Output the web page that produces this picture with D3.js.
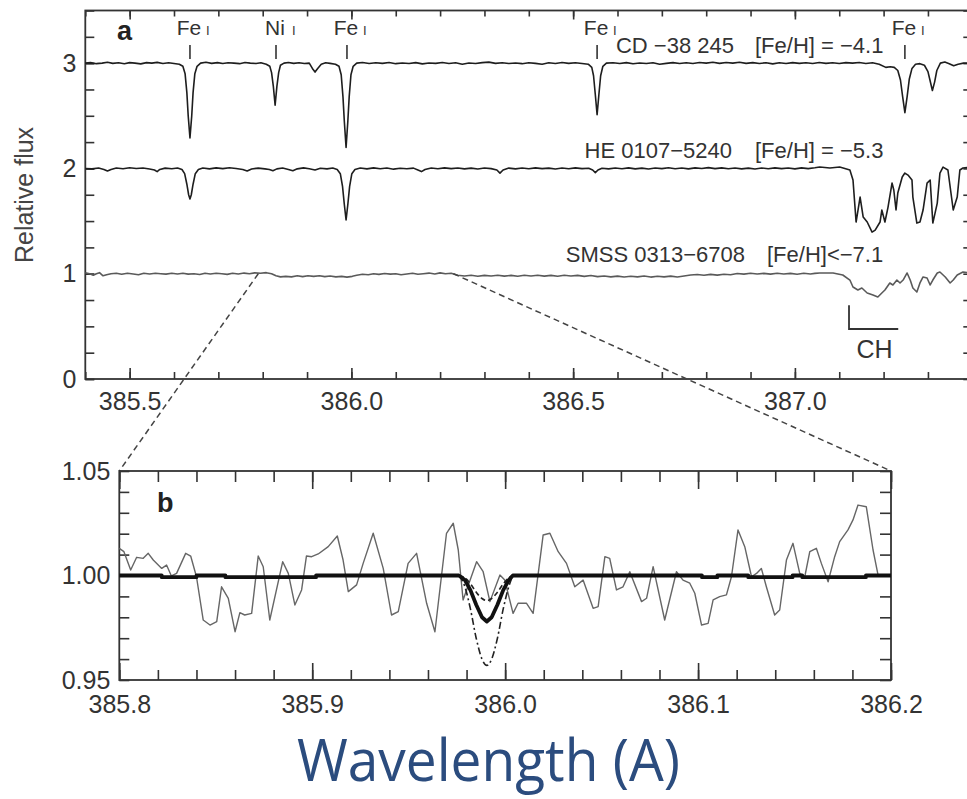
<!DOCTYPE html>
<html>
<head>
<meta charset="utf-8">
<script src="https://cdn.jsdelivr.net/npm/d3@7"></script>
<style>
  body { margin: 0; background: #fff; }
  svg { display: block; font-family: "Liberation Sans", Arial, Helvetica, sans-serif; }
</style>
</head>
<body>
<div id="plot"></div>
<script>
// ---- data: panel a spectra [wavelength nm, normalized flux] ----
var cdSpec = [
  [385.400,1.000],[385.412,1.005],[385.425,0.995],[385.438,1.000],[385.450,1.008],[385.462,0.998],[385.475,1.003],[385.488,0.995],
  [385.500,1.005],[385.512,1.000],[385.525,0.993],[385.538,1.005],[385.550,1.000],[385.562,1.007],[385.575,0.997],[385.588,1.003],
  [385.600,0.996],[385.612,0.990],[385.620,0.970],[385.625,0.900],[385.629,0.720],[385.632,0.500],[385.636,0.290],[385.640,0.500],
  [385.643,0.720],[385.647,0.900],[385.652,0.970],[385.660,1.000],[385.672,1.008],[385.685,0.998],[385.698,1.005],[385.710,0.996],
  [385.722,1.004],[385.735,1.000],[385.748,0.995],[385.760,1.006],[385.772,1.000],[385.785,0.997],[385.796,1.004],[385.808,0.990],
  [385.816,0.970],[385.820,0.910],[385.824,0.780],[385.828,0.600],[385.832,0.780],[385.836,0.910],[385.840,0.980],[385.848,1.000],
  [385.858,1.006],[385.870,0.998],[385.882,1.004],[385.894,0.996],[385.905,1.000],[385.912,0.950],[385.918,0.915],[385.924,0.950],
  [385.932,0.990],[385.942,1.003],[385.952,0.998],[385.964,0.990],[385.972,0.970],[385.977,0.890],[385.981,0.680],[385.984,0.450],
  [385.988,0.200],[385.992,0.450],[385.995,0.680],[385.999,0.890],[386.004,0.970],[386.012,1.000],[386.025,1.006],[386.040,0.996],
  [386.055,1.004],[386.070,0.998],[386.085,1.006],[386.100,0.995],[386.115,1.002],[386.130,0.997],[386.145,1.005],[386.160,0.993],
  [386.175,1.002],[386.190,0.998],[386.205,1.006],[386.220,0.997],[386.235,1.003],[386.250,0.990],[386.265,1.002],[386.280,0.997],
  [386.295,1.005],[386.310,1.010],[386.325,0.998],[386.340,1.004],[386.355,0.996],[386.370,1.002],[386.385,0.995],[386.400,1.004],
  [386.415,0.998],[386.430,0.990],[386.445,1.003],[386.460,0.997],[386.475,1.006],[386.490,0.998],[386.505,1.003],[386.520,0.996],
  [386.534,0.990],[386.542,0.960],[386.546,0.880],[386.550,0.700],[386.554,0.510],[386.558,0.700],[386.562,0.880],[386.567,0.970],
  [386.575,1.000],[386.590,1.004],[386.605,0.997],[386.620,1.005],[386.635,0.994],[386.650,1.002],[386.665,0.996],[386.680,1.004],
  [386.695,0.990],[386.710,0.998],[386.725,1.005],[386.740,0.997],[386.755,1.003],[386.770,0.996],[386.785,1.006],[386.800,1.000],
  [386.815,1.008],[386.830,0.998],[386.845,1.006],[386.860,1.000],[386.875,1.009],[386.890,0.998],[386.905,1.005],[386.920,0.997],
  [386.935,1.004],[386.950,0.993],[386.965,1.003],[386.980,0.996],[386.995,1.005],[387.010,0.998],[387.025,1.004],[387.040,0.996],
  [387.055,1.006],[387.070,0.998],[387.085,1.003],[387.100,0.996],[387.115,1.005],[387.130,1.000],[387.145,1.006],[387.160,0.997],
  [387.175,1.004],[387.190,0.990],[387.205,0.960],[387.215,0.965],[387.224,0.960],[387.232,0.930],[387.238,0.840],[387.243,0.680],
  [387.248,0.530],[387.253,0.680],[387.258,0.850],[387.264,0.950],[387.272,0.990],[387.282,0.995],[387.292,0.980],[387.300,0.920],
  [387.305,0.830],[387.310,0.740],[387.315,0.820],[387.320,0.930],[387.328,1.000],[387.338,1.010],[387.348,0.995],[387.358,0.975],
  [387.368,0.990],[387.380,1.000],[387.400,1.000]
];

var heSpec = [
  [385.400,1.000],[385.415,0.996],[385.430,1.004],[385.442,0.990],[385.450,0.975],[385.458,0.990],[385.470,1.004],[385.485,0.997],
  [385.500,1.006],[385.515,1.000],[385.530,1.004],[385.545,0.995],[385.556,0.985],[385.562,0.970],[385.568,0.990],[385.580,1.003],
  [385.595,0.997],[385.608,1.004],[385.618,0.990],[385.624,0.950],[385.629,0.850],[385.633,0.750],[385.636,0.710],[385.639,0.750],
  [385.643,0.850],[385.648,0.950],[385.655,0.990],[385.665,1.004],[385.680,0.996],[385.695,1.005],[385.710,0.998],[385.725,1.006],
  [385.740,1.000],[385.755,0.990],[385.765,0.975],[385.775,0.995],[385.790,1.003],[385.805,0.996],[385.815,0.990],[385.823,0.978],
  [385.832,0.996],[385.845,1.004],[385.858,0.990],[385.868,0.978],[385.878,0.996],[385.892,1.005],[385.905,0.997],[385.918,0.985],
  [385.930,1.002],[385.945,0.996],[385.958,1.004],[385.968,0.990],[385.975,0.950],[385.980,0.830],[385.984,0.660],[385.988,0.510],
  [385.992,0.660],[385.996,0.830],[386.001,0.950],[386.008,0.990],[386.020,1.004],[386.035,0.996],[386.050,1.005],[386.065,0.997],
  [386.080,1.004],[386.095,0.993],[386.110,1.002],[386.125,0.997],[386.140,1.003],[386.150,0.985],[386.158,0.970],[386.166,0.990],
  [386.180,1.004],[386.195,0.997],[386.210,1.005],[386.225,0.998],[386.240,1.004],[386.255,0.996],[386.270,1.003],[386.285,0.995],
  [386.300,1.004],[386.315,0.998],[386.328,0.985],[386.335,0.955],[386.342,0.985],[386.355,1.003],[386.370,0.996],[386.385,1.004],
  [386.400,0.997],[386.415,1.005],[386.430,0.998],[386.445,1.003],[386.460,0.995],[386.475,1.004],[386.490,0.997],[386.505,1.005],
  [386.520,0.998],[386.535,1.002],[386.544,0.985],[386.550,0.960],[386.556,0.985],[386.565,1.002],[386.580,0.996],[386.595,1.004],
  [386.610,0.997],[386.625,1.005],[386.640,0.996],[386.655,1.003],[386.670,0.995],[386.685,1.004],[386.700,0.998],[386.715,1.006],
  [386.730,0.997],[386.745,1.004],[386.760,0.996],[386.775,1.005],[386.790,1.000],[386.805,1.008],[386.820,0.998],[386.835,1.005],
  [386.850,0.997],[386.865,1.004],[386.880,0.996],[386.895,1.003],[386.910,0.995],[386.925,1.004],[386.940,0.997],[386.955,1.005],
  [386.970,0.998],[386.985,1.004],[387.000,0.996],[387.015,1.005],[387.030,0.998],[387.045,1.006],
  [387.056,1.013],[387.079,1.004],[387.101,1.013],[387.124,0.985],[387.131,0.890],[387.138,0.491],[387.147,0.728],[387.154,0.538],
  [387.163,0.491],[387.174,0.395],[387.181,0.414],[387.192,0.491],[387.196,0.605],[387.203,0.491],[387.210,0.633],[387.219,0.861],
  [387.223,0.795],[387.228,0.605],[387.232,0.766],[387.242,0.918],[387.248,0.956],[387.255,0.937],[387.264,0.890],[387.266,0.728],
  [387.275,0.481],[387.282,0.491],[387.289,0.605],[387.298,0.861],[387.305,0.890],[387.311,0.481],[387.321,0.671],[387.327,0.956],
  [387.334,1.013],[387.345,0.985],[387.357,0.605],[387.366,0.728],[387.372,0.985],[387.379,1.004],[387.400,1.013]
];

var smssSpec = [
  [385.400,1.010],[385.410,1.000],[385.418,0.985],[385.425,1.000],[385.432,1.010],[385.440,0.980],[385.448,0.990],[385.458,1.000],
  [385.470,1.005],[385.482,0.995],[385.495,1.005],[385.508,0.998],[385.520,0.990],[385.532,1.004],[385.545,0.997],[385.558,1.005],
  [385.570,1.000],[385.582,0.996],[385.595,1.004],[385.608,0.998],[385.620,1.005],[385.632,0.996],[385.645,1.000],[385.658,0.992],
  [385.670,1.004],[385.682,0.997],[385.695,1.005],[385.708,1.000],[385.720,0.994],[385.732,1.004],[385.745,0.997],[385.758,1.006],
  [385.770,1.000],[385.782,1.008],[385.795,1.004],[385.808,1.010],[385.820,1.000],[385.830,0.980],[385.840,0.970],[385.852,0.975],
  [385.865,0.970],[385.878,0.980],[385.890,0.972],[385.902,0.980],[385.915,0.975],[385.928,0.980],[385.940,0.972],[385.952,0.978],
  [385.965,0.970],[385.978,0.975],[385.990,0.968],[386.002,0.975],[386.012,0.985],[386.025,0.995],[386.038,0.990],[386.050,1.000],
  [386.062,0.994],[386.075,1.002],[386.088,0.996],[386.100,1.000],[386.112,0.990],[386.125,0.997],[386.138,1.004],[386.150,0.995],
  [386.162,1.000],[386.175,1.006],[386.188,0.998],[386.200,1.008],[386.212,1.000],[386.225,1.004],[386.240,0.985],[386.255,0.978],
  [386.270,0.985],[386.285,0.976],[386.300,0.984],[386.315,0.978],[386.330,0.986],[386.345,0.977],[386.360,0.984],[386.375,0.976],
  [386.390,0.985],[386.405,0.978],[386.420,0.986],[386.435,0.977],[386.450,0.984],[386.465,0.976],[386.480,0.985],[386.495,0.978],
  [386.510,0.984],[386.525,0.975],[386.540,0.983],[386.555,0.972],[386.570,0.978],[386.585,0.970],[386.600,0.977],[386.615,0.969],
  [386.630,0.976],[386.645,0.970],[386.660,0.978],[386.675,0.968],[386.690,0.976],[386.705,0.970],[386.720,0.977],[386.735,0.969],
  [386.750,0.978],[386.765,0.988],[386.780,0.993],[386.795,0.986],[386.810,0.994],[386.825,0.987],[386.840,0.995],[386.855,0.990],
  [386.870,1.002],[386.885,0.996],[386.900,1.004],[386.915,0.997],[386.930,1.003],[386.945,0.996],[386.960,1.004],[386.975,0.998],
  [386.990,1.003],[387.005,0.995],[387.020,1.004],[387.035,0.998],[387.045,1.003],
  [387.056,1.007],[387.086,1.007],[387.108,0.988],[387.124,0.940],[387.131,0.874],[387.142,0.845],[387.151,0.864],[387.163,0.817],
  [387.176,0.798],[387.187,0.779],[387.196,0.817],[387.203,0.845],[387.214,0.912],[387.221,0.893],[387.230,0.940],[387.237,0.912],
  [387.244,0.940],[387.253,1.007],[387.260,0.940],[387.266,0.864],[387.275,0.826],[387.282,0.912],[387.289,0.969],[387.298,0.959],
  [387.305,0.893],[387.311,0.940],[387.321,1.007],[387.327,1.016],[387.339,0.969],[387.350,0.912],[387.357,0.940],[387.366,0.988],
  [387.379,1.016],[387.400,1.007]
];

// ---- data: panel b ----
var smssObs = [
  [385.8000,1.0130],[385.8024,1.0114],[385.8059,1.0026],[385.8090,1.0087],[385.8124,1.0082],[385.8150,1.0106],[385.8176,1.0074],
  [385.8220,1.0034],[385.8245,1.0050],[385.8270,0.9998],[385.8297,1.0010],[385.8344,1.0106],[385.8370,1.0093],[385.8400,0.9994],
  [385.8435,0.9787],[385.8470,0.9763],[385.8505,0.9779],[385.8530,0.9946],[385.8565,0.9891],[385.8600,0.9731],[385.8625,0.9822],
  [385.8650,0.9811],[385.8686,0.9819],[385.8720,1.0093],[385.8746,1.0042],[385.8780,0.9787],[385.8847,1.0066],[385.8876,1.0010],
  [385.8910,0.9859],[385.8945,0.9931],[385.8970,1.0093],[385.8997,1.0090],[385.9031,1.0103],[385.9083,1.0138],[385.9130,1.0189],
  [385.9160,1.0074],[385.9187,0.9923],[385.9230,0.9955],[385.9264,1.0058],[385.9316,1.0202],[385.9368,1.0034],[385.9411,0.9811],
  [385.9446,0.9827],[385.9497,1.0058],[385.9541,1.0106],[385.9593,0.9867],[385.9636,0.9731],[385.9696,1.0202],[385.9731,1.0250],
  [385.9757,1.0122],[385.9782,0.9883],[385.9852,1.0066],[385.9886,1.0018],[385.9921,0.9875],[385.9973,1.0002],[385.9998,0.9978],
  [386.0041,0.9819],[386.0067,0.9867],[386.0111,0.9867],[386.0145,0.9819],[386.0197,1.0194],[386.0232,1.0202],[386.0275,1.0114],
  [386.0318,1.0058],[386.0361,0.9946],[386.0404,0.9978],[386.0456,0.9843],[386.0482,0.9851],[386.0517,1.0090],[386.0542,1.0082],
  [386.0577,0.9931],[386.0611,0.9946],[386.0646,1.0018],[386.0707,0.9875],[386.0733,0.9891],[386.0767,1.0042],[386.0827,0.9787],
  [386.0888,1.0018],[386.0922,0.9978],[386.0957,0.9963],[386.0983,0.9915],[386.1018,0.9763],[386.1052,0.9771],[386.1078,0.9883],
  [386.1112,0.9899],[386.1147,0.9907],[386.1173,0.9994],[386.1207,1.0218],[386.1242,1.0138],[386.1277,0.9994],[386.1303,1.0010],
  [386.1328,1.0034],[386.1354,0.9946],[386.1397,0.9811],[386.1423,0.9835],[386.1458,1.0074],[386.1492,1.0154],[386.1527,1.0010],
  [386.1553,0.9994],[386.1579,1.0114],[386.1613,1.0130],[386.1639,1.0058],[386.1674,0.9970],[386.1708,1.0090],[386.1734,1.0162],
  [386.1777,1.0218],[386.1803,1.0266],[386.1829,1.0337],[386.1872,1.0329],[386.1907,1.0122],[386.1933,1.0002],[386.1993,1.0002]
];

var modelBest = [
  [385.800,1.000],[385.822,1.000],[385.822,0.9992],[385.840,0.9992],[385.840,1.000],[385.855,1.000],[385.855,0.9992],
  [385.902,0.9992],[385.902,1.000],[385.976,1.000],[385.979,0.998],[385.982,0.993],[385.985,0.986],[385.988,0.980],
  [385.9905,0.978],[385.993,0.980],[385.996,0.986],[385.999,0.993],[386.002,0.998],[386.004,1.000],[386.102,1.000],
  [386.102,0.9992],[386.110,0.9992],[386.110,1.000],[386.126,1.000],[386.126,0.9992],[386.149,0.9992],[386.149,1.000],
  [386.154,1.000],[386.154,0.9992],[386.187,0.9992],[386.187,1.000],[386.200,1.000]
];
var modelLow = [
  [385.976,1.000],[385.979,0.999],[385.982,0.996],[385.985,0.992],[385.988,0.989],[385.9905,0.988],
  [385.993,0.989],[385.996,0.992],[385.999,0.996],[386.002,0.999],[386.004,1.000]
];
var modelHigh = [
  [385.976,1.000],[385.979,0.995],[385.982,0.984],[385.985,0.970],[385.988,0.960],[385.9905,0.957],
  [385.993,0.960],[385.996,0.970],[385.999,0.984],[386.002,0.995],[386.004,1.000]
];

// ---- labels ----
var stars = [
  { name: "CD \u221238 245", feh: "[Fe/H] = \u22124.1", offset: 2 },
  { name: "HE 0107\u22125240", feh: "[Fe/H] = \u22125.3", offset: 1 },
  { name: "SMSS 0313\u22126708", feh: "[Fe/H]<\u22127.1", offset: 0 }
];
var lineIds = [
  { lam: 385.636, el: "Fe" }, { lam: 385.830, el: "Ni" }, { lam: 385.990, el: "Fe" },
  { lam: 386.554, el: "Fe" }, { lam: 387.248, el: "Fe" }
];
var topXTicks = [385.5, 386.0, 386.5, 387.0];
var topYTicks = [0, 1, 2, 3];
var botXTicks = [385.8, 385.9, 386.0, 386.1, 386.2];
var botYTicks = [0.95, 1.00, 1.05];
var zoomEnds = [385.79, 386.23];

const W = 967, H = 799;
const svg = d3.select("#plot").append("svg").attr("width", W).attr("height", H);
const ink = "#333";

// scales
const xA = d3.scaleLinear().domain([385.4, 387.4]).range([85.3, 972.3]);
const yA = d3.scaleLinear().domain([0, 3.5]).range([379, 10.5]);
const xB = d3.scaleLinear().domain([385.8, 386.2]).range([119.3, 891]);
const yB = d3.scaleLinear().domain([0.95, 1.05]).range([680, 471]);

function axisStyle(g, size) {
  g.select(".domain").remove();
  g.selectAll("line").attr("stroke", ink).attr("stroke-width", 1.6);
  g.selectAll("text").attr("fill", ink).attr("font-size", size || 25);
}

// ---------- panel a ----------
const minorA = d3.range(0, 21).map(i => 385.4 + i * 0.1);
const minorAy = d3.range(0, 15).map(i => i * 0.25);

svg.append("g").attr("transform", "translate(0,379)")
  .call(d3.axisBottom(xA).tickValues(minorA).tickSize(-7).tickFormat(""))
  .call(axisStyle);
svg.append("g").attr("transform", "translate(0,379)")
  .call(d3.axisBottom(xA).tickValues(topXTicks).tickSize(-11).tickPadding(13).tickFormat(d3.format(".1f")))
  .call(axisStyle);
svg.append("g").attr("transform", "translate(0,10.5)")
  .call(d3.axisTop(xA).tickValues(minorA).tickSize(-6).tickFormat(""))
  .call(axisStyle);
svg.append("g").attr("transform", "translate(0,10.5)")
  .call(d3.axisTop(xA).tickValues(topXTicks).tickSize(-9).tickFormat(""))
  .call(axisStyle);
svg.append("g").attr("transform", "translate(85.3,0)")
  .call(d3.axisLeft(yA).tickValues(minorAy).tickSize(-9).tickFormat(""))
  .call(axisStyle);
svg.append("g").attr("transform", "translate(85.3,0)")
  .call(d3.axisLeft(yA).tickValues(topYTicks).tickSize(-9).tickPadding(9).tickFormat(d3.format("d")))
  .call(axisStyle);
svg.append("g").attr("transform", "translate(972.3,0)")
  .call(d3.axisRight(yA).tickValues(minorAy).tickSize(-9).tickFormat(""))
  .call(axisStyle);

svg.append("rect").attr("x", 85.3).attr("y", 10.5).attr("width", 887).attr("height", 368.5)
  .attr("fill", "none").attr("stroke", ink).attr("stroke-width", 1.8);

svg.append("text").attr("transform", "translate(33,195) rotate(-90)")
  .attr("text-anchor", "middle").attr("font-size", 25).attr("fill", "#444").text("Relative flux");

svg.append("text").attr("x", 117).attr("y", 40).attr("font-size", 27).attr("font-weight", "bold")
  .attr("fill", "#222").text("a");

const specs = [cdSpec, heSpec, smssSpec];
const specColors = ["#1e1e1e", "#1e1e1e", "#5a5a5a"];
specs.forEach((s, i) => {
  const off = stars[i].offset;
  const line = d3.line().x(d => xA(d[0])).y(d => yA(d[1] + off));
  svg.append("path").datum(s).attr("d", line).attr("fill", "none")
    .attr("stroke", specColors[i]).attr("stroke-width", 1.6).attr("stroke-linejoin", "round");
});

// star labels
const labelRight = [[734, 755, 53], [732, 755, 158], [745, 767, 262]];
stars.forEach((s, i) => {
  svg.append("text").attr("x", labelRight[i][0]).attr("y", labelRight[i][2]).attr("text-anchor", "end")
    .attr("font-size", 22).attr("fill", ink).text(s.name);
  svg.append("text").attr("x", labelRight[i][1]).attr("y", labelRight[i][2])
    .attr("font-size", 22).attr("fill", ink).text(s.feh);
});

// line identifications
lineIds.forEach(d => {
  const x = xA(d.lam);
  svg.append("line").attr("x1", x).attr("x2", x).attr("y1", 45).attr("y2", 59)
    .attr("stroke", ink).attr("stroke-width", 1.6);
  svg.append("text").attr("x", x - 1).attr("y", 35).attr("text-anchor", "middle")
    .attr("font-size", 21).attr("fill", ink).text(d.el);
  svg.append("text").attr("x", x + 16).attr("y", 35).attr("font-size", 13).attr("fill", ink).text("I");
});

// CH bracket
const chX0 = xA(387.122), chX1 = xA(387.233);
svg.append("path")
  .attr("d", `M${chX0},${yA(0.70)}V${yA(0.475)}H${chX1}`)
  .attr("fill", "none").attr("stroke", ink).attr("stroke-width", 1.8);
svg.append("text").attr("x", (chX0 + chX1) / 2 + 1).attr("y", yA(0.20)).attr("text-anchor", "middle")
  .attr("font-size", 25).attr("fill", ink).text("CH");

// zoom connector lines
svg.append("line").attr("x1", xA(zoomEnds[0])).attr("y1", yA(1.0)).attr("x2", xB(385.8)).attr("y2", yB(1.05))
  .attr("stroke", "#444").attr("stroke-width", 1.5).attr("stroke-dasharray", "6,4");
svg.append("line").attr("x1", xA(zoomEnds[1])).attr("y1", yA(1.0)).attr("x2", xB(386.2)).attr("y2", yB(1.05))
  .attr("stroke", "#444").attr("stroke-width", 1.5).attr("stroke-dasharray", "6,4");

// ---------- panel b ----------
const minorB = d3.range(0, 21).map(i => 385.8 + i * 0.02);
const minorBy = d3.range(0, 11).map(i => 0.95 + i * 0.01);

svg.append("rect").attr("x", 119.3).attr("y", 471).attr("width", 891 - 119.3).attr("height", 209)
  .attr("fill", "#fff").attr("stroke", ink).attr("stroke-width", 1.8);

svg.append("g").attr("transform", "translate(0,680)")
  .call(d3.axisBottom(xB).tickValues(minorB).tickSize(-10).tickFormat(""))
  .call(axisStyle);
svg.append("g").attr("transform", "translate(0,680)")
  .call(d3.axisBottom(xB).tickValues(botXTicks).tickSize(-17).tickPadding(15).tickFormat(d3.format(".1f")))
  .call(axisStyle);
svg.append("g").attr("transform", "translate(0,471)")
  .call(d3.axisTop(xB).tickValues(minorB).tickSize(-11).tickFormat(""))
  .call(axisStyle);
svg.append("g").attr("transform", "translate(0,471)")
  .call(d3.axisTop(xB).tickValues(botXTicks).tickSize(-18).tickFormat(""))
  .call(axisStyle);
svg.append("g").attr("transform", "translate(119.3,0)")
  .call(d3.axisLeft(yB).tickValues(minorBy).tickSize(-10).tickPadding(9).tickFormat(d => botYTicks.some(t => Math.abs(t - d) < 1e-6) ? d3.format(".2f")(d) : ""))
  .call(axisStyle);
svg.append("g").attr("transform", "translate(891,0)")
  .call(d3.axisRight(yB).tickValues(minorBy).tickSize(-11).tickFormat(""))
  .call(axisStyle);

svg.append("text").attr("x", 157).attr("y", 512).attr("font-size", 27).attr("font-weight", "bold")
  .attr("fill", "#222").text("b");

const lineB = d3.line().x(d => xB(d[0])).y(d => yB(d[1]));
svg.append("path").datum(smssObs).attr("d", lineB).attr("fill", "none")
  .attr("stroke", "#666").attr("stroke-width", 1.4).attr("stroke-linejoin", "round");
svg.append("path").datum(modelHigh).attr("d", lineB.curve(d3.curveMonotoneX)).attr("fill", "none")
  .attr("stroke", "#222").attr("stroke-width", 1.6).attr("stroke-dasharray", "7,3,2,3");
svg.append("path").datum(modelLow).attr("d", lineB.curve(d3.curveMonotoneX)).attr("fill", "none")
  .attr("stroke", "#222").attr("stroke-width", 1.6).attr("stroke-dasharray", "5,3");
lineB.curve(d3.curveLinear);
svg.append("path").datum(modelBest).attr("d", lineB).attr("fill", "none")
  .attr("stroke", "#111").attr("stroke-width", 3.8).attr("stroke-linejoin", "round");

// axis title
svg.append("text").attr("x", 297).attr("y", 781)
  .attr("font-family", "'Open Sans', 'Noto Sans', 'Liberation Sans', sans-serif")
  .attr("font-size", 59).attr("fill", "#2b4c7e")
  .attr("textLength", 383).attr("lengthAdjust", "spacingAndGlyphs")
  .text("Wavelength (A)");
</script>
</body>
</html>
